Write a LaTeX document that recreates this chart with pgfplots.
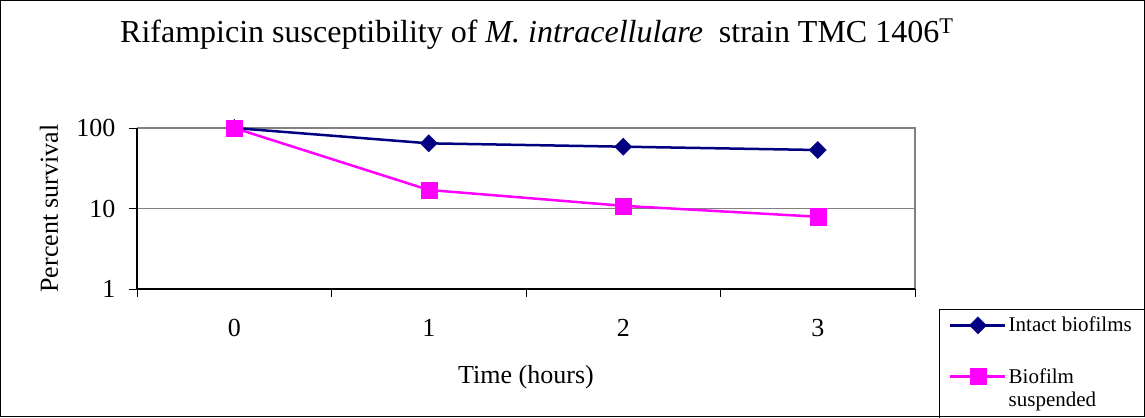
\documentclass[border=0pt]{standalone}
\usepackage{fontspec}
\setmainfont{Liberation Serif}
\usepackage{pgfplots}
\pgfplotsset{compat=1.18}
\definecolor{navyline}{HTML}{000080}
\definecolor{magline}{HTML}{FF00FF}
\pgfplotsset{
  oneline legend/.style={legend image code/.code={
    \draw[##1, mark=none] (0bp,0bp) -- (55bp,0bp);
    \draw[##1, only marks, overlay] plot coordinates {(27.5bp,0bp)};
  }},
  twoline legend/.style={legend image code/.code={
    \path[draw=none, fill=none] (0bp,-11.5bp) rectangle (0.1bp,11.5bp);
    \draw[##1, mark=none] (0bp,11.5bp) -- (55bp,11.5bp);
    \draw[##1, only marks, overlay] plot coordinates {(27.5bp,11.5bp)};
  }},
}
\begin{document}
\begin{tikzpicture}[x=1bp,y=1bp]
\useasboundingbox (0,0) rectangle (1145,417);
\begin{axis}[
  at={(137bp,128bp)}, anchor=south west,
  scale only axis, width=778bp, height=161bp,
  xmin=-0.5, xmax=3.5,
  ymode=log, log basis y=10, ymin=1, ymax=100,
  xtick={-0.5,0.5,1.5,2.5,3.5}, x tick label as interval,
  xticklabels={0,1,2,3},
  ytick={1,10,100}, yticklabels={1,10,100}, yminorticks=false, xminorticks=false,
  tick align=outside, major tick length=8bp,
  tick pos=left,
  tick style={black, line width=1bp},
  ymajorgrids, major grid style={gray, line width=1bp},
  axis line style={draw=none},
  /pgf/number format/assume math mode=true,
  tick label style={font=\fontsize{26bp}{30bp}\selectfont},
  xticklabel style={yshift=-19bp},
  yticklabel style={xshift=-10bp},
  label style={font=\fontsize{26bp}{30bp}\selectfont},
  xlabel={Time (hours)},
  xlabel style={at={(axis description cs:0.5,-0.5466)}, anchor=center},
  ylabel={Percent survival},
  ylabel style={at={(axis description cs:-0.1131,0.5)}, anchor=center},
  legend style={draw=none, fill=none, at={(949bp-137bp,-26bp)}, anchor=north west, inner sep=0pt,
    font=\fontsize{21bp}{23bp}\selectfont, cells={anchor=west, align=left, inner xsep=2bp, inner ysep=2bp},
    column sep=0pt, row sep=31bp},
  clip=false,
]
\draw[line width=2.5bp, gray] (rel axis cs:0,1) -- (rel axis cs:1,1) -- (rel axis cs:1,0);
\draw[line width=1.5bp, black] (rel axis cs:0,1) -- (rel axis cs:0,0) -- (rel axis cs:1,0);
\addplot[navyline, line width=2.5bp, mark=diamond*, mark size=8.5bp, mark options={solid, line width=0.5bp, xscale=1.33}, oneline legend]
  coordinates {(0,100) (1,64.5) (2,58.6) (3,53.3)};
\addlegendentry{Intact biofilms}
\addplot[magline, line width=2.5bp, mark=square*, mark size=8bp, mark options={solid, line width=0.5bp}, twoline legend]
  coordinates {(0,100) (1,17) (2,10.8) (3,7.9)};
\addlegendentry{Biofilm\\suspended}
\end{axis}
\node[font=\fontsize{32bp}{36bp}\selectfont, inner sep=0pt, anchor=base west] at (120,375) {Rifampicin susceptibility of \textit{M. intracellulare}\ \ strain TMC 1406\textsuperscript{T}};
\draw[line width=1bp] (939,-2) -- (939,108) -- (1147,108);
\draw[line width=1.5bp] (0.75,0.75) rectangle (1144.25,416.25);
\end{tikzpicture}
\end{document}
